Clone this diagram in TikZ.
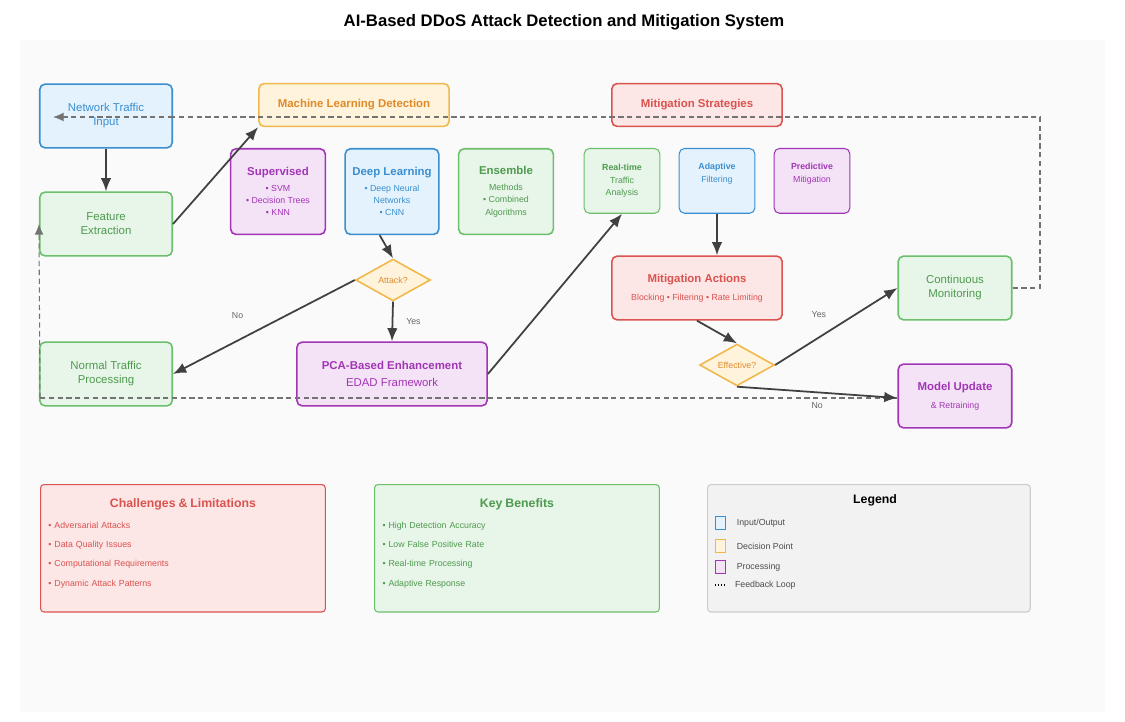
\documentclass[tikz,border=0pt]{standalone}
\usepackage{fontspec}
\setmainfont{Liberation Sans}
\usetikzlibrary{calc}
\usetikzlibrary{positioning}
\usetikzlibrary{shapes.geometric}
\usetikzlibrary{arrows.meta}
\definecolor{inblue}{HTML}{3A8FD0}
\definecolor{inbluefill}{HTML}{E3F2FD}
\definecolor{decorange}{HTML}{F0B84A}
\definecolor{decorangefill}{HTML}{FFF3DC}
\definecolor{decorangetext}{HTML}{E08A2A}
\definecolor{mitred}{HTML}{D9534F}
\definecolor{mitredfill}{HTML}{FDE6E6}
\definecolor{okgreen}{HTML}{6CBF6C}
\definecolor{okgreenfill}{HTML}{E8F5E9}
\definecolor{okgreentext}{HTML}{4E9A4E}
\definecolor{procpurple}{HTML}{A235B5}
\definecolor{procpurplefill}{HTML}{F4E3F7}
\definecolor{legendgray}{HTML}{CCCCCC}
\definecolor{legendfill}{HTML}{F2F2F2}
\newcommand{\txtsmall}{\fontsize{5}{7}\selectfont}
\newcommand{\txthead}{\fontsize{6.5}{8}\selectfont}
\tikzset{
    sized/.style 2 args={minimum width=#1*0.5669pt, minimum height=#2*0.5669pt},
    common/.style={draw, rounded corners=3pt, line width=0.9pt, align=center, inner sep=1pt},
    inbox/.style={common, draw=inblue, fill=inbluefill, text=inblue},
    decbox/.style={common, draw=decorange, fill=decorangefill, text=decorangetext},
    mitbox/.style={common, draw=mitred, fill=mitredfill, text=mitred},
    okbox/.style={common, draw=okgreen, fill=okgreenfill, text=okgreentext},
    procbox/.style={common, draw=procpurple, fill=procpurplefill, text=procpurple},
    infobox/.style={common, line width=0.6pt, rounded corners=2pt, text width=#1*0.5669pt, font=\txtsmall},
    decision/.style={diamond, draw=decorange, fill=decorangefill, text=decorangetext, line width=0.9pt,
        aspect=1.8, sized={75}{42}, inner sep=0pt, font=\txtsmall},
    flow/.style={-{Latex[length=7.5pt,width=6pt]}, line width=1pt, draw=black!75},
    feedback/.style={densely dashed, line width=0.6pt, draw=black!55},
    lab/.style={font=\txtsmall, text=black!60},
}
\begin{document}
\begin{tikzpicture}[x=0.02cm, y=-0.02cm]
    \useasboundingbox (0,0) rectangle (1125,722);
    \fill[white] (0,0) rectangle (1125,722);
    \fill[black!2] (20,40) rectangle (1105,712);
    \node (title) at (564,22) {\fontsize{9.5}{11}\selectfont\bfseries AI-Based DDoS Attack Detection and Mitigation System};

    % top row
    \node[inbox, sized={133}{64}, font=\txthead] (input) at (106,116) {Network Traffic\\Input};
    \node[decbox, sized={191}{43}, font=\txthead\bfseries] (ml) at (354,105) {Machine Learning Detection};
    \node[mitbox, sized={171}{43}, font=\txthead\bfseries] (strategies) at (697,105) {Mitigation Strategies};
    \node[okbox, sized={133}{64}, font=\txthead] (features) at (106,224) {Feature\\Extraction};

    % detection methods
    \node[procbox, sized={95}{86}, font=\txtsmall, anchor=north] (supervised) at (278,148) {{\txthead\bfseries Supervised}\\[2pt]• SVM\\• Decision Trees\\• KNN};
    \node[inbox, sized={94}{86}, font=\txtsmall, anchor=north] (deep) at (392,148) {{\txthead\bfseries Deep Learning}\\[2pt]• Deep Neural\\Networks\\• CNN};
    \node[okbox, sized={95}{86}, font=\txtsmall, anchor=north] (ensemble) at (506,148) {{\txthead\bfseries Ensemble}\\[2pt]Methods\\• Combined\\Algorithms};

    % mitigation methods
    \node[okbox, line width=0.6pt, sized={76}{65}, font=\txtsmall, anchor=north] (realtime) at (622,148) {\bfseries Real-time\\Traffic\\Analysis};
    \node[inbox, line width=0.6pt, sized={76}{65}, font=\txtsmall, anchor=north] (adaptive) at (717,148) {\bfseries Adaptive\\Filtering\\ \strut};
    \node[procbox, line width=0.6pt, sized={76}{65}, font=\txtsmall, anchor=north] (predictive) at (812,148) {\bfseries Predictive\\Mitigation\\ \strut};

    % decisions and results
    \node[decision] (attack) at (393,280) {Attack?};
    \node[mitbox, sized={171}{64}, font=\txtsmall] (actions) at (697,288) {{\txthead\bfseries Mitigation Actions}\\[3pt]Blocking • Filtering • Rate Limiting};
    \node[okbox, sized={114}{64}, font=\txthead] (monitoring) at (955,288) {Continuous\\Monitoring};
    \node[okbox, sized={133}{64}, font=\txthead] (normal) at (106,374) {Normal Traffic\\Processing};
    \node[procbox, sized={191}{64}, font=\txthead] (pca) at (392,374) {{\bfseries PCA-Based Enhancement}\\[2pt]EDAD Framework};
    \node[decision] (effective) at (737,365) {Effective?};
    \node[procbox, sized={114}{64}, font=\txthead] (update) at (955,396) {{\bfseries Model Update}\\[2pt]\txtsmall\& Retraining};

    % feedback loops
    \coordinate (loop-right) at (1040,288);
    \coordinate (loop-top) at (1040,117);
    \coordinate (loop-left) at (40,398);
    \draw[feedback] (monitoring.east) -- (loop-right) -- (loop-top) -- (input.east |- loop-top);
    \draw[feedback, -{Latex[length=6pt,width=5pt]}] (input.east |- loop-top) -- ([xshift=8pt]input.west |- loop-top);
    \draw[feedback] (update.west |- loop-left) -- (loop-left);
    \draw[feedback, -{Latex[length=6pt,width=5pt]}] (loop-left) -- (features.west);

    % main flow
    \draw[flow] (input) -- (features);
    \draw[flow] (features.east) -- (ml.south west);
    \draw[flow] ([xshift=-7pt]deep.south) -- (attack.north);
    \draw[flow] (attack.south) -- node[lab, right=4pt] {Yes} (pca.north);
    \draw[flow] (attack.west) -- node[lab, above left=1pt and 8pt] {No} (normal.east);
    \draw[flow] (pca.east) -- (realtime.south);
    \draw[flow] (adaptive.south) -- (adaptive.south |- actions.north);
    \draw[flow] (actions.south) -- (effective.north);
    \draw[flow] (effective.east) -- node[lab, above left=1pt and 2pt] {Yes} (monitoring.west);
    \draw[flow] (effective.south) -- node[lab, below=2pt] {No} (update.west |- loop-left);

    % information panels
    \node[mitbox, infobox=270, sized={286}{128}, anchor=north west, align=left] (challenges) at (40,484)
        {\centering{\fontsize{7}{9}\selectfont\bfseries Challenges \& Limitations}\par\vspace{5pt}
         \raggedright • Adversarial Attacks\\[4pt]• Data Quality Issues\\[4pt]• Computational Requirements\\[4pt]• Dynamic Attack Patterns\par\vspace{6pt}};
    \node[okbox, infobox=270, sized={286}{128}, anchor=north west, align=left] (benefits) at (374,484)
        {\centering{\fontsize{7}{9}\selectfont\bfseries Key Benefits}\par\vspace{5pt}
         \raggedright • High Detection Accuracy\\[4pt]• Low False Positive Rate\\[4pt]• Real-time Processing\\[4pt]• Adaptive Response\par\vspace{6pt}};
    \node[common, line width=0.6pt, rounded corners=2pt, draw=legendgray, fill=legendfill, sized={324}{128}, anchor=north west] (legend) at (707,484) {};
    \node[font=\fontsize{7}{9}\selectfont\bfseries] (legend-title) at (875,500) {Legend};
    \node[draw=inblue, fill=inbluefill, sized={10}{13}, inner sep=0pt] (key-io) at (720,523) {};
    \node[draw=decorange, fill=decorangefill, sized={10}{13}, inner sep=0pt] (key-dec) at (720,546) {};
    \node[draw=procpurple, fill=procpurplefill, sized={10}{13}, inner sep=0pt] (key-proc) at (720,567) {};
    \coordinate (key-loop) at (720,585);
    \draw[densely dotted, line width=0.7pt] ([xshift=-3pt]key-loop) -- ([xshift=3pt]key-loop);
    \node[lab, text=black!70, right=3pt of key-io] (key-io-text) {Input/Output};
    \node[lab, text=black!70, right=3pt of key-dec] (key-dec-text) {Decision Point};
    \node[lab, text=black!70, right=3pt of key-proc] (key-proc-text) {Processing};
    \node[lab, text=black!70, right=5pt of key-loop] (key-loop-text) {Feedback Loop};
\end{tikzpicture}
\end{document}
